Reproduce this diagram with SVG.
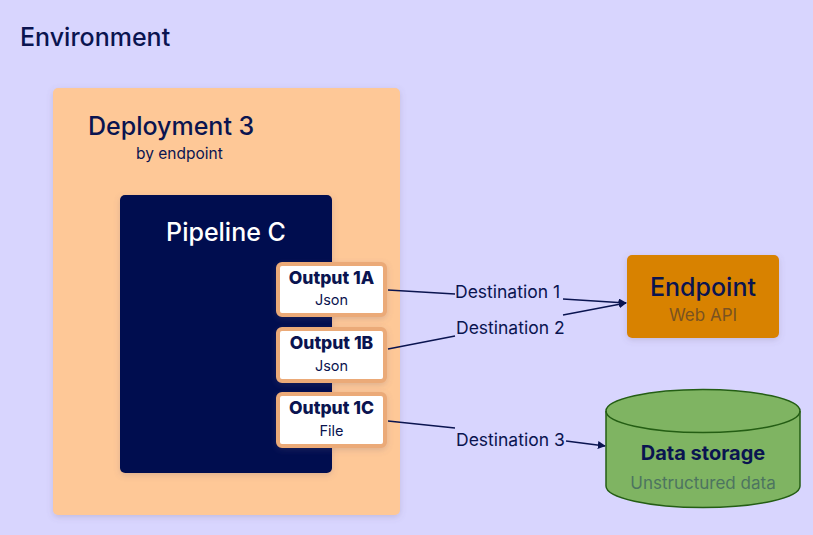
<svg xmlns="http://www.w3.org/2000/svg" width="813" height="535" viewBox="0 0 813 535">
<defs>
<filter id="sh" x="-10%" y="-10%" width="130%" height="130%">
<feDropShadow dx="0" dy="2" stdDeviation="3" flood-color="#6b5a7a" flood-opacity="0.22"/>
</filter>
<marker id="arr" viewBox="0 0 10 10" refX="9" refY="5" markerWidth="8" markerHeight="8" markerUnits="userSpaceOnUse" orient="auto">
<path d="M0,0 L10,5 L0,10 Z" fill="#0a1450"/>
</marker>
<style>
text{font-family:Inter,"Noto Sans","Liberation Sans",sans-serif;fill:#0a1450}
.t24{font-size:25px;font-weight:500}
.out{fill:#ffffff;stroke:#ebaa78;stroke-width:4}
.ob{font-size:17.5px;font-weight:800;text-anchor:middle}
.os{font-size:14.5px;text-anchor:middle}
.lbl{font-size:17.5px}
.ln{fill:none;stroke:#0a1450;stroke-width:1.5}
</style>
</defs>
<rect width="813" height="535" fill="#d8d5fe"/>
<g id="environment">
<text x="20" y="46" class="t24">Environment</text>
</g>
<g id="deployment3">
<rect x="53" y="88" width="347" height="427" rx="5" fill="#fec897" filter="url(#sh)"/>
<text x="88" y="135" class="t24">Deployment 3</text>
<text x="136" y="159" font-size="15.5">by endpoint</text>
</g>
<g id="pipelineC">
<rect x="120" y="195" width="212" height="278" rx="5" fill="#000f4f" filter="url(#sh)"/>
<text x="226" y="241" class="t24" text-anchor="middle" style="fill:#ffffff">Pipeline C</text>
</g>
<g id="output1A">
<rect x="278" y="264" width="107" height="51" rx="4" class="out" filter="url(#sh)"/>
<text x="331.5" y="284" class="ob">Output 1A</text>
<text x="331.5" y="305" class="os">Json</text>
</g>
<g id="output1B">
<rect x="278" y="329" width="107" height="52" rx="4" class="out" filter="url(#sh)"/>
<text x="331.5" y="349" class="ob">Output 1B</text>
<text x="331.5" y="371" class="os">Json</text>
</g>
<g id="output1C">
<rect x="278" y="394" width="107" height="52" rx="4" class="out" filter="url(#sh)"/>
<text x="331.5" y="414" class="ob">Output 1C</text>
<text x="331.5" y="436" class="os">File</text>
</g>
<g id="endpoint">
<rect x="627" y="255" width="152" height="83" rx="5" fill="#d88200" filter="url(#sh)"/>
<text x="703" y="296" class="t24" text-anchor="middle" font-size="25.5">Endpoint</text>
<text x="703" y="321" font-size="17" text-anchor="middle" style="fill:#7a5220">Web API</text>
</g>
<g id="datastorage">
<path d="M606,411 L606,486 A97,21.5 0 0 0 800,486 L800,411 A97,21.5 0 0 0 606,411 Z" fill="#7fb462" stroke="#245e14" stroke-width="1.5"/>
<path d="M606,411 A97,21.5 0 0 0 800,411" fill="none" stroke="#245e14" stroke-width="1.5"/>
<text x="703" y="460" font-size="20" font-weight="700" text-anchor="middle">Data storage</text>
<text x="703" y="489" font-size="17" text-anchor="middle" style="fill:#4d7460">Unstructured data</text>
</g>
<g id="connectors">
<path class="ln" d="M388,290 L455,294"/>
<path class="ln" d="M563,299 L626,303" marker-end="url(#arr)"/>
<text x="455" y="298" class="lbl">Destination 1</text>
<path class="ln" d="M388,349 L455,336"/>
<path class="ln" d="M563,315 L626,303" marker-end="url(#arr)"/>
<text x="456" y="334" class="lbl">Destination 2</text>
<path class="ln" d="M388,421 L455,428"/>
<path class="ln" d="M566,441 L605,446" marker-end="url(#arr)"/>
<text x="456" y="446" class="lbl">Destination 3</text>
</g>
</svg>
